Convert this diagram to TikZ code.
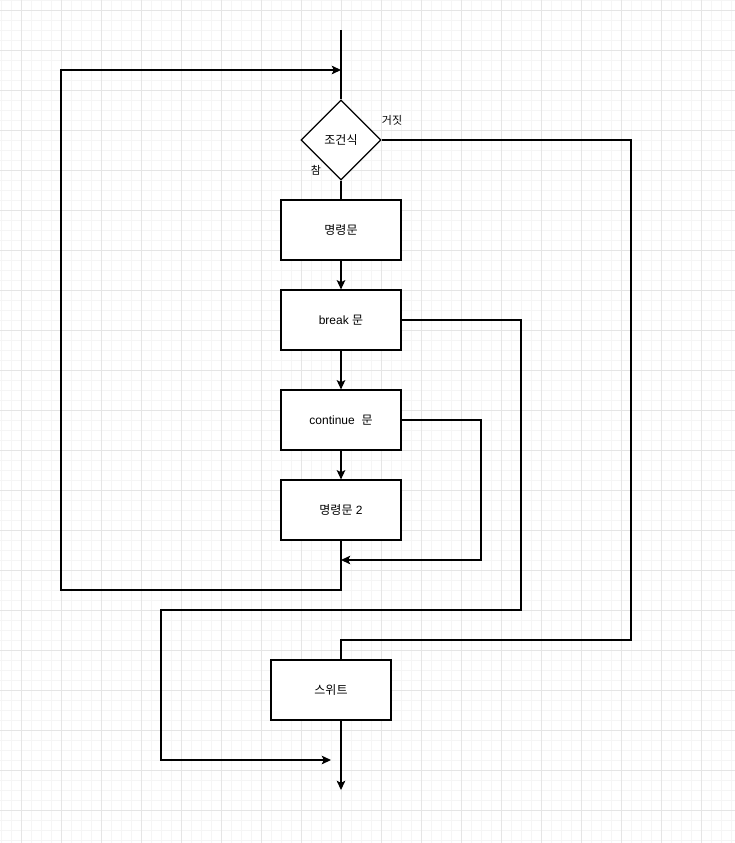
\documentclass[tikz,border=0pt]{standalone}
\usepackage{fontspec}
\setmainfont{Liberation Sans}
\newfontfamily\kr{Noto Sans CJK KR}
\usetikzlibrary{shapes.geometric,arrows.meta}
\tikzset{
  px/.style={x=0.75pt,y=-0.75pt},
  ln/.style={line width=0.9pt,black},
  arr/.style={ln,-{Stealth[length=7pt,width=6.5pt,inset=1.6pt]}},
  box/.style={draw,line width=0.9pt,fill=white,minimum width=90pt,minimum height=45pt,inner sep=0pt,font=\fontsize{9pt}{11pt}\selectfont},
  cond/.style={draw,line width=0.9pt,fill=white,diamond,aspect=1,minimum width=60pt,minimum height=60pt,inner sep=0pt,font=\fontsize{9pt}{11pt}\selectfont},
  lbl/.style={inner sep=0pt,font=\fontsize{8.25pt}{10pt}\selectfont\kr},
  minorgrid/.style={draw=black!4,line width=0.75pt},
  majorgrid/.style={draw=black!10,line width=0.75pt}
}
\begin{document}
\begin{tikzpicture}[px]
\useasboundingbox (0,0) rectangle (735,843);
\fill[white] (0,0) rectangle (735,843);
% grid
\foreach \x in {1,11,...,731} \draw[minorgrid] (\x,0) -- (\x,843);
\foreach \y in {0,10,...,840} \draw[minorgrid] (0,\y) -- (735,\y);
\foreach \x in {21,61,...,731} \draw[majorgrid] (\x,0) -- (\x,843);
\foreach \y in {10,50,...,840} \draw[majorgrid] (0,\y) -- (735,\y);

% nodes
\node[cond] (cnd) at (341,140) {\kr 조건식};
\node[box] (s1) at (341,230) {\kr 명령문};
\node[box] (brk) at (341,320) {break {\kr 문}};
\node[box] (cont) at (341,420) {continue\ \ {\kr 문}};
\node[box] (s2) at (341,510) {{\kr 명령문} 2};
\node[box] (suite) at (331,690) {\kr 스위트};
\node[lbl] (fl) at (392,120) {거짓};
\node[lbl] (tr) at (316,170) {참};

% coordinates
\coordinate (top) at (341,30);
\coordinate (loopin) at (341,70);
\coordinate (l1) at (341,590);
\coordinate (l2) at (61,590);
\coordinate (l3) at (61,70);
\coordinate (f1) at (631,140);
\coordinate (f2) at (631,640);
\coordinate (f3) at (341,640);
\coordinate (f4) at (341,660);
\coordinate (b1) at (521,320);
\coordinate (b2) at (521,610);
\coordinate (b3) at (161,610);
\coordinate (b4) at (161,760);
\coordinate (b5) at (331,760);
\coordinate (c1) at (481,420);
\coordinate (c2) at (481,560);
\coordinate (c3) at (341,560);
\coordinate (e0) at (341,720);
\coordinate (e1) at (341,790);

% connectors
\draw[ln] (top) -- (cnd.north);
\draw[ln] (cnd.south) -- (s1.north);
\draw[arr] (s1.south) -- (brk.north);
\draw[arr] (brk.south) -- (cont.north);
\draw[arr] (cont.south) -- (s2.north);
\draw[arr] (s2.south) -- (l1) -- (l2) -- (l3) -- (loopin);
\draw[ln] (cnd.east) -- (f1) -- (f2) -- (f3) -- (f4);
\draw[arr] (brk.east) -- (b1) -- (b2) -- (b3) -- (b4) -- (b5);
\draw[arr] (cont.east) -- (c1) -- (c2) -- (c3);
\draw[arr] (e0) -- (e1);
\end{tikzpicture}
\end{document}
